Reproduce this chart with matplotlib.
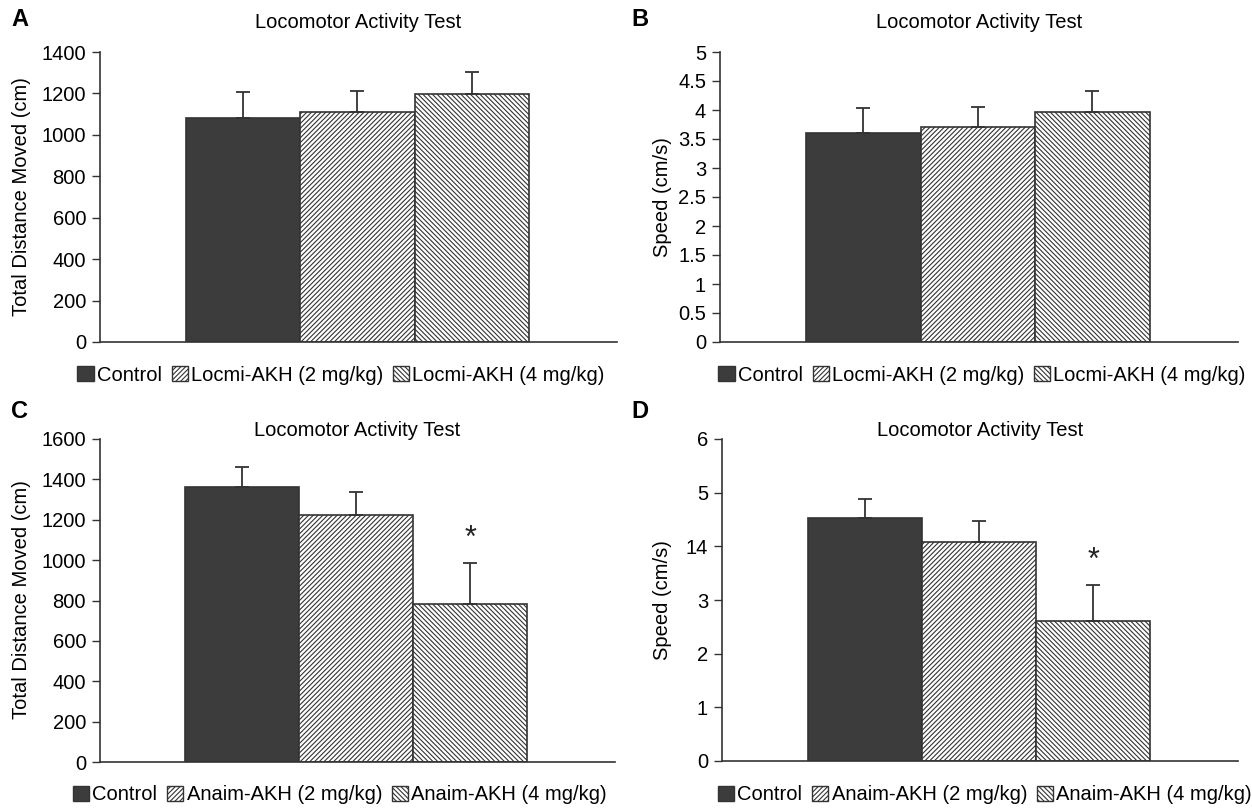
import matplotlib
matplotlib.use("Agg")
import matplotlib.pyplot as plt
from matplotlib.patches import Patch
import numpy as np

plt.rcParams['font.family'] = ['Liberation Sans', 'DejaVu Sans']
plt.rcParams['hatch.linewidth'] = 0.8
plt.rcParams['hatch.color'] = '#333333'

# ---------------- data ----------------
groups = [0, 1, 2]
title = "Locomotor Activity Test"

legend_top = ["Control", "Locmi-AKH (2 mg/kg)", "Locmi-AKH (4 mg/kg)"]
legend_bottom = ["Control", "Anaim-AKH (2 mg/kg)", "Anaim-AKH (4 mg/kg)"]

a_vals = [1080, 1110, 1195]
a_err = [125, 100, 110]
b_vals = [3.60, 3.71, 3.97]
b_err = [0.43, 0.34, 0.36]
c_vals = [1362, 1224, 783]
c_err = [100, 113, 203]
d_vals = [4.53, 4.08, 2.60]
d_err = [0.35, 0.40, 0.68]

a_ticks = [0, 200, 400, 600, 800, 1000, 1200, 1400]
b_ticks = [0, 0.5, 1, 1.5, 2, 2.5, 3, 3.5, 4, 4.5, 5]
b_ticklabels = ["0", "0.5", "1", "1.5", "2", "2.5", "3", "3.5", "4", "4.5", "5"]
c_ticks = [0, 200, 400, 600, 800, 1000, 1200, 1400, 1600]
d_ticks = [0, 1, 2, 3, 4, 5, 6]
d_ticklabels = ["0", "1", "2", "3", "14", "5", "6"]

ylabel_dist = "Total Distance Moved (cm)"
ylabel_speed = "Speed (cm/s)"

# ---------------- style ----------------
W, H = 1252, 808
fig = plt.figure(figsize=(W / 100, H / 100), dpi=100)

dark = '#3c3c3c'
edge = '#333333'
styles = [dict(facecolor=dark, hatch=None),
          dict(facecolor='white', hatch='///////'),
          dict(facecolor='white', hatch='\\\\\\\\\\\\\\')]
FS = 14.5


def px_axes(l, r, t, b):
    return fig.add_axes([l / W, 1 - b / H, (r - l) / W, (b - t) / H])


def draw(ax, vals, errs, ticks, ticklabels, ymax, star=False):
    for i, (x, v) in enumerate(zip(groups, vals)):
        ax.bar(x, v, width=1.0, edgecolor=edge, linewidth=1.2, zorder=2,
               **styles[i])
    ax.errorbar(groups, vals, yerr=[np.zeros(len(vals)), errs], fmt='none',
                ecolor=edge, elinewidth=1.3, capsize=5, capthick=1.3, zorder=3)
    ax.set_xlim(-1.25, 3.27)
    ax.set_ylim(0, ymax)
    ax.set_yticks(ticks)
    ax.set_yticklabels(ticklabels if ticklabels else [str(t) for t in ticks])
    ax.tick_params(axis='y', direction='out', length=6, width=1.0,
                   color=edge, labelsize=FS, pad=4)
    ax.tick_params(axis='x', bottom=False, labelbottom=False)
    for s in ['top', 'right']:
        ax.spines[s].set_visible(False)
    for s in ['left', 'bottom']:
        ax.spines[s].set_color(edge)
        ax.spines[s].set_linewidth(1.2)
    if star:
        ax.annotate('*', xy=(groups[2], vals[2] + errs[2]), xytext=(0, 17),
                    textcoords='offset points', ha='center', va='center',
                    fontsize=22, color='#222222')


def legend(labels, cx, cy):
    handles = [Patch(edgecolor=edge, linewidth=1.0, **styles[i]) for i in range(3)]
    fig.legend(handles, labels, loc='center', bbox_to_anchor=(cx / W, 1 - cy / H),
               ncol=3, frameon=False, fontsize=FS, handlelength=0.8,
               handleheight=0.8, handletextpad=0.15, columnspacing=0.5,
               borderaxespad=0, borderpad=0)


axA = px_axes(100, 617, 52, 342)
draw(axA, a_vals, a_err, a_ticks, None, 1400)
axB = px_axes(720, 1238, 52, 342)
draw(axB, b_vals, b_err, b_ticks, b_ticklabels, 5)
axC = px_axes(100, 615, 439, 762)
draw(axC, c_vals, c_err, c_ticks, None, 1600, star=True)
axD = px_axes(722, 1238, 439, 761)
draw(axD, d_vals, d_err, d_ticks, d_ticklabels, 6, star=True)

# titles
for cx, cy in [(358, 22), (979, 22), (357, 430), (980, 430)]:
    fig.text(cx / W, 1 - cy / H, title, ha='center', va='center', fontsize=FS)

# ylabels
fig.text(22 / W, 1 - 197 / H, ylabel_dist, rotation=90, ha='center', va='center', fontsize=FS)
fig.text(662 / W, 1 - 197 / H, ylabel_speed, rotation=90, ha='center', va='center', fontsize=FS)
fig.text(22 / W, 1 - 600 / H, ylabel_dist, rotation=90, ha='center', va='center', fontsize=FS)
fig.text(662 / W, 1 - 600 / H, ylabel_speed, rotation=90, ha='center', va='center', fontsize=FS)

# panel letters
for letter, x, y in [("A", 20, 20), ("B", 640, 20), ("C", 20, 412), ("D", 640, 412)]:
    fig.text(x / W, 1 - y / H, letter, ha='center', va='center', fontsize=17,
             fontweight='bold')

legend(legend_top, 341, 375)
legend(legend_top, 982, 375)
legend(legend_bottom, 340, 795)
legend(legend_bottom, 985, 795)

fig.savefig("out.png", dpi=100)
